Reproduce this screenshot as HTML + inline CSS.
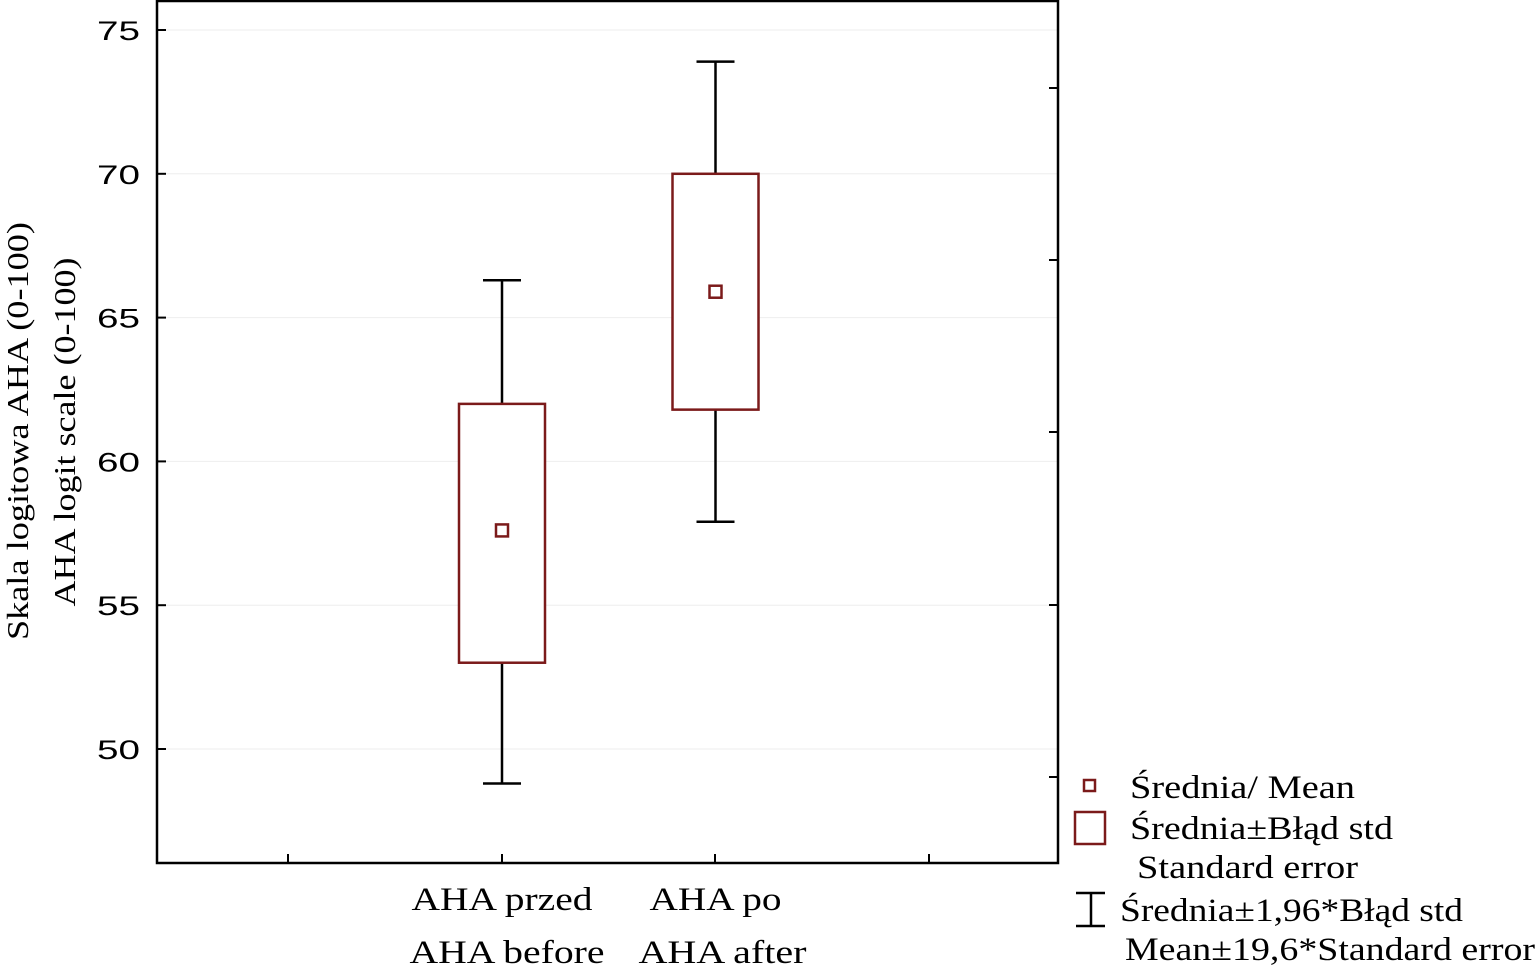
<!DOCTYPE html>
<html><head><meta charset="utf-8"><style>
body{margin:0;background:#fff;}
svg{display:block;}
.serif{font-family:"Liberation Serif",serif;}
.sans{font-family:"Liberation Sans",sans-serif;}
</style></head><body>
<svg id="chart" width="1539" height="967">
<g id="grid"></g>
<rect x="157" y="1" width="901" height="862" fill="none" stroke="#000" stroke-width="2.5"/>
<g id="yticks"></g>
<g id="rticks"></g>
<g id="xticks"></g>
<g id="boxes"></g>
<g class="serif" font-size="31" fill="#000">
<text transform="translate(28,431) rotate(-90)" text-anchor="middle" textLength="418" lengthAdjust="spacingAndGlyphs">Skala logitowa AHA (0-100)</text>
<text transform="translate(75,432) rotate(-90)" text-anchor="middle" textLength="349" lengthAdjust="spacingAndGlyphs">AHA logit scale (0-100)</text>
</g>
<g class="serif" font-size="33" fill="#000">
<rect x="1084" y="780" width="11" height="11" fill="none" stroke="#7b1a1a" stroke-width="2.5"/>
<text x="1130" y="798" textLength="225" lengthAdjust="spacingAndGlyphs">Średnia/ Mean</text>
<rect x="1075" y="812" width="30" height="32" fill="none" stroke="#7b1a1a" stroke-width="2.5"/>
<text x="1130" y="839" textLength="263" lengthAdjust="spacingAndGlyphs">Średnia±Błąd std</text>
<text x="1137" y="878" textLength="221" lengthAdjust="spacingAndGlyphs">Standard error</text>
<path d="M1076 893H1105M1091 893V926M1076 926H1105" stroke="#000" stroke-width="2.5" fill="none"/>
<text x="1120" y="921" textLength="343" lengthAdjust="spacingAndGlyphs">Średnia±1,96*Błąd std</text>
<text x="1125" y="960" textLength="410" lengthAdjust="spacingAndGlyphs">Mean±19,6*Standard error</text>
</g>
</svg>
<script>
const catLabelsPL=["AHA przed","AHA po"];
const catLabelsEN=["AHA before","AHA after"];
const means=[57.6,65.9];
const seLow=[53.0,61.8];
const seHigh=[62.0,70.0];
const ciLow=[48.8,57.9];
const ciHigh=[66.3,73.9];
const yTicks=[50,55,60,65,70,75];
const plLen=[181,132];
const enLen=[195,168];
const enOff=[5,7];
const NS="http://www.w3.org/2000/svg";
function y(v){return 749-(v-50)*(749-30)/25;}
function x(i){return 502+(i-1)*213.5;}
function mk(tag,attrs,parent,text){const e=document.createElementNS(NS,tag);for(const k in attrs)e.setAttribute(k,attrs[k]);if(text!==undefined)e.textContent=text;document.getElementById(parent).appendChild(e);return e;}
yTicks.forEach(t=>{
 let g=mk('line',{x1:158,x2:1057,y1:y(t),y2:y(t),stroke:'#eee','stroke-width':1},'grid');
 
 
 let l=mk('line',{x1:157,x2:166,y1:y(t),y2:y(t),stroke:'#000','stroke-width':2},'yticks');
 
 
 let tx=mk('text',{x:140,y:y(t)+10,'text-anchor':'end','font-size':27,'class':'sans',textLength:43,lengthAdjust:'spacingAndGlyphs'},'yticks',String(t));
 
 
});
[88,260,432,605,777].forEach(p=>{
 let l=mk('line',{x1:1049,x2:1058,y1:p,y2:p,stroke:'#000','stroke-width':2},'rticks');
 
 
});
[288,502,715,929].forEach(p=>{
 let l=mk('line',{x1:p,x2:p,y1:854,y2:863,stroke:'#000','stroke-width':2},'xticks');
 
 
});
means.forEach((m,i)=>{
 const cx=x(i+1);
 let w=mk('path',{d:`M${cx-19} ${y(ciHigh[i])}H${cx+19}M${cx} ${y(ciHigh[i])}V${y(ciLow[i])}M${cx-19} ${y(ciLow[i])}H${cx+19}`,stroke:'#000','stroke-width':2.5,fill:'none'},'boxes');
 
 
 let b=mk('rect',{x:cx-43,y:y(seHigh[i]),width:86,height:y(seLow[i])-y(seHigh[i]),fill:'#fff',stroke:'#7b1a1a','stroke-width':2.5},'boxes');
 
 
 let mm=mk('rect',{x:cx-6,y:y(m)-6,width:12,height:12,fill:'none',stroke:'#7b1a1a','stroke-width':2.5},'boxes');
 
 
 let t1=mk('text',{x:cx,y:910,'text-anchor':'middle','font-size':33,'class':'serif',textLength:plLen[i],lengthAdjust:'spacingAndGlyphs'},'xticks',catLabelsPL[i]);
 
 
 let t2=mk('text',{x:cx+enOff[i],y:963,'text-anchor':'middle','font-size':33,'class':'serif',textLength:enLen[i],lengthAdjust:'spacingAndGlyphs'},'xticks',catLabelsEN[i]);
 
 
});
</script>
</body></html>
